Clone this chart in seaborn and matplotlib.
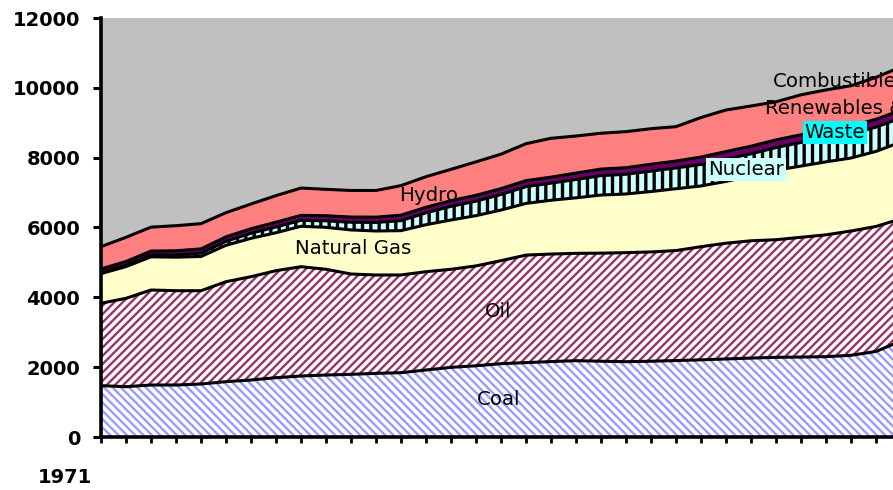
import numpy as np
import pandas as pd
import matplotlib.pyplot as plt
import seaborn as sns

sns.set_style("ticks")
plt.rcParams["font.family"] = ["DejaVu Sans"]
plt.rcParams["text.color"] = "black"

# world primary energy supply by fuel (Mtoe)
years = list(range(1971, 2004))
coal = [1470, 1441, 1489, 1489, 1518, 1585, 1632, 1699, 1747, 1775, 1795, 1823, 1842, 1919, 1995, 2040,
        2100, 2130, 2160, 2186, 2170, 2157, 2170, 2190, 2210, 2235, 2260, 2282, 2290, 2300, 2340, 2450, 2750]
oil = [2359, 2531, 2721, 2701, 2672, 2863, 2959, 3064, 3130, 3028, 2873, 2817, 2798, 2815, 2808, 2860,
       2950, 3080, 3080, 3074, 3095, 3123, 3130, 3150, 3240, 3315, 3360, 3368, 3430, 3490, 3560, 3580, 3500]
gas = [851, 908, 950, 960, 980, 1042, 1099, 1087, 1158, 1202, 1262, 1260, 1270, 1346, 1412, 1440,
       1450, 1480, 1540, 1590, 1665, 1680, 1730, 1770, 1740, 1770, 1860, 1990, 2040, 2090, 2090, 2150, 2200]
nuclear = [29, 37, 53, 64, 95, 115, 145, 165, 170, 186, 220, 245, 285, 340, 390, 415,
           445, 480, 490, 525, 555, 565, 585, 595, 615, 640, 630, 650, 675, 675, 690, 695, 687]
hydro = [104, 110, 112, 120, 122, 128, 130, 137, 143, 147, 149, 152, 158, 160, 164, 167,
         168, 172, 172, 184, 188, 188, 196, 198, 213, 215, 219, 219, 222, 225, 221, 225, 222]
crw = [638, 692, 685, 718, 723, 691, 708, 760, 782, 755, 761, 763, 847, 875, 897, 958,
       987, 1058, 1113, 1061, 1027, 1032, 1019, 985, 1132, 1190, 1151, 1091, 1143, 1160, 1159, 1200, 1241]

layers = ["Coal", "Oil", "Natural Gas", "Nuclear", "Hydro", "Combustible Renewables & Waste"]
df = pd.DataFrame({"year": years, "Coal": coal, "Oil": oil, "Natural Gas": gas,
                   "Nuclear": nuclear, "Hydro": hydro, "Combustible Renewables & Waste": crw})
cum = df[layers].cumsum(axis=1)
long = cum.assign(year=df["year"]).melt(id_vars="year", var_name="layer", value_name="top")

# fill colour, hatch colour, hatch pattern, hatch line width (pt)
styles = {
    "Coal": ("white", "#9999FF", "\\\\\\\\", 1.7),
    "Oil": ("white", "#993366", "////", 1.7),
    "Natural Gas": ("#FFFFCC", "#FFFFCC", None, 1.0),
    "Nuclear": ("#CCFFFF", "black", "||", 2.4),
    "Hydro": ("#660066", "#660066", None, 1.0),
    "Combustible Renewables & Waste": ("#FF8080", "#FF8080", None, 1.0),
}

fig = plt.figure(figsize=(8.93, 4.9), dpi=100)
ax = fig.add_axes([101 / 893, 53 / 490, 800 / 893, 419 / 490])
ax.set_facecolor("#C0C0C0")

bottom = np.zeros(len(years))
for name in layers:
    fc, hc, hatch, hlw = styles[name]
    top = cum[name].values
    with plt.rc_context({"hatch.linewidth": hlw}):
        coll = ax.fill_between(years, bottom, top, linewidth=0, facecolor=fc, edgecolor=hc, hatch=hatch)
    if hasattr(coll, "set_hatch_linewidth"):
        coll.set_hatch_linewidth(hlw)
    bottom = top

# black boundary lines between the layers
sns.lineplot(data=long, x="year", y="top", hue="layer", palette=["black"] * len(layers),
             legend=False, linewidth=2.2, ax=ax)

ax.set_xlim(1971, 2003)
ax.set_ylim(0, 12000)
ax.set_yticks(range(0, 12001, 2000))
ax.set_xticks(years)
ax.set_xlabel("")
ax.set_ylabel("")
ax.tick_params(axis="y", direction="out", length=6, width=2.2, labelsize=14, pad=9, colors="black")
ax.tick_params(axis="x", direction="out", length=4, width=2, labelbottom=False, colors="black")
for lab in ax.get_yticklabels():
    lab.set_fontweight("bold")
for side in ["top", "right"]:
    ax.spines[side].set_visible(False)
for side in ["left", "bottom"]:
    ax.spines[side].set_linewidth(2.6)
    ax.spines[side].set_color("black")

fig.text(65 / 893, 1 - 477 / 490, "1971", ha="center", va="center", fontsize=14, fontweight="bold")

# series labels
lab_kw = dict(ha="center", va="center", fontsize=14.2, color="black", zorder=5)
ax.text(1986.9, 1060, "Coal", **lab_kw)
ax.text(1986.9, 3580, "Oil", **lab_kw)
ax.text(1981.1, 5410, "Natural Gas", **lab_kw)
ax.text(1984.1, 6930, "Hydro", **lab_kw)
ax.text(1996.8, 7650, "Nuclear", bbox=dict(boxstyle="square,pad=0.1", fc="#CCFFFF", ec="none"), **lab_kw)
ax.text(2000.36, 10170, "Combustible", **lab_kw)
ax.text(2000.36, 9420, "Renewables &", **lab_kw)
ax.text(2000.36, 8720, "Waste", bbox=dict(boxstyle="square,pad=0.1", fc="#00FFFF", ec="none"), **lab_kw)

fig.savefig("out.png", dpi=100)
